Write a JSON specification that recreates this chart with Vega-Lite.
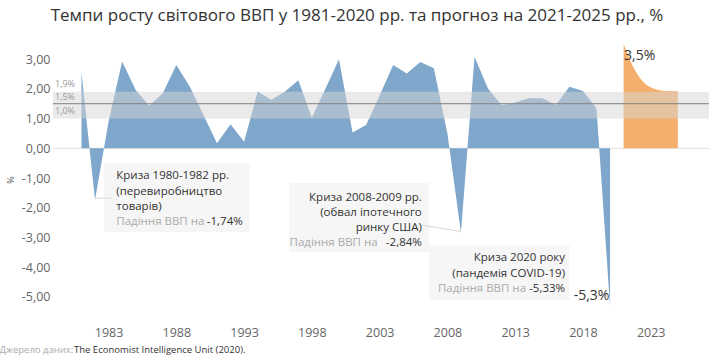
{
  "$schema": "https://vega.github.io/schema/vega-lite/v6.json",
  "width": 656,
  "height": 277,
  "autosize": {"type": "none"},
  "padding": {"left": 53, "top": 41, "right": 0, "bottom": 37},
  "background": "white",
  "title": {
    "text": "Темпи росту світового ВВП у 1981-2020 рр. та прогноз на 2021-2025 рр., %",
    "font": "Open Sans",
    "fontSize": 17,
    "fontWeight": "normal",
    "color": "#333333",
    "anchor": "middle",
    "dx": -24,
    "offset": 16
  },
  "config": {
    "locale": {"number": {"decimal": ",", "thousands": " ", "grouping": [3], "currency": ["", ""], "minus": "-"}},
    "view": {"stroke": null},
    "font": "Open Sans",
    "axis": {"labelOverlap": false, "labelBound": false, "labelFlush": false}
  },
  "datasets": {
    "hist": [
      {"year": 1981, "value": 2.55}, {"year": 1982, "value": -1.74}, {"year": 1983, "value": 0.9},
      {"year": 1984, "value": 2.92}, {"year": 1985, "value": 1.96}, {"year": 1986, "value": 1.43},
      {"year": 1987, "value": 1.85}, {"year": 1988, "value": 2.8}, {"year": 1989, "value": 2.07},
      {"year": 1990, "value": 1.12}, {"year": 1991, "value": 0.17}, {"year": 1992, "value": 0.81},
      {"year": 1993, "value": 0.22}, {"year": 1994, "value": 1.91}, {"year": 1995, "value": 1.63},
      {"year": 1996, "value": 1.9}, {"year": 1997, "value": 2.29}, {"year": 1998, "value": 1.04},
      {"year": 1999, "value": 2.0}, {"year": 2000, "value": 3.0}, {"year": 2001, "value": 0.53},
      {"year": 2002, "value": 0.78}, {"year": 2003, "value": 1.78}, {"year": 2004, "value": 2.8},
      {"year": 2005, "value": 2.52}, {"year": 2006, "value": 2.9}, {"year": 2007, "value": 2.69},
      {"year": 2008, "value": 0.5}, {"year": 2009, "value": -2.84}, {"year": 2010, "value": 3.08},
      {"year": 2011, "value": 2.0}, {"year": 2012, "value": 1.45}, {"year": 2013, "value": 1.54},
      {"year": 2014, "value": 1.68}, {"year": 2015, "value": 1.68}, {"year": 2016, "value": 1.46},
      {"year": 2017, "value": 2.07}, {"year": 2018, "value": 1.93}, {"year": 2019, "value": 1.35},
      {"year": 2020, "value": -5.33}
    ],
    "forecast": [
      {"year": 2021, "value": 3.5}, {"year": 2022, "value": 2.5}, {"year": 2023, "value": 2.05},
      {"year": 2024, "value": 1.93}, {"year": 2025, "value": 1.92}
    ],
    "boxes": [
      {"year": 1982.66, "year2": 1993.4, "value": -0.5, "value2": -2.82},
      {"year": 1996.3, "year2": 2006.65, "value": -1.17, "value2": -3.49},
      {"year": 2006.65, "year2": 2017.0, "value": -3.26, "value2": -5.1}
    ],
    "leaders": [
      {"year": 1982.0, "year2": 1983.2, "value": -1.68, "value2": -1.68},
      {"year": 2006.15, "year2": 2009.0, "value": -2.59, "value2": -2.8}
    ],
    "band": [{"value": 1.0, "value2": 1.9}],
    "mean": [{"value": 1.5}],
    "zero": [{"value": 0}],
    "bandlabels": [
      {"year": 1978.9, "value": 2.16, "label": "1,9%"},
      {"year": 1978.9, "value": 1.73, "label": "1,5%"},
      {"year": 1978.9, "value": 1.26, "label": "1,0%"}
    ],
    "annleft": [
      {"year": 1983.57, "value": -0.92, "label": "Криза 1980-1982 рр.", "tone": "dark"},
      {"year": 1983.57, "value": -1.47, "label": "(перевиробництво", "tone": "dark"},
      {"year": 1983.57, "value": -1.99, "label": "товарів)", "tone": "dark"},
      {"year": 1983.57, "value": -2.48, "label": "Падіння ВВП на", "tone": "grey"},
      {"year": 1990.25, "value": -2.48, "label": "-1,74%", "tone": "dark"}
    ],
    "annright": [
      {"year": 2006.11, "value": -1.67, "label": "Криза 2008-2009 рр.", "tone": "dark"},
      {"year": 2006.11, "value": -2.18, "label": "(обвал іпотечного", "tone": "dark"},
      {"year": 2006.11, "value": -2.68, "label": "ринку США)", "tone": "dark"},
      {"year": 2002.85, "value": -3.19, "label": "Падіння ВВП на", "tone": "grey"},
      {"year": 2006.11, "value": -3.19, "label": "-2,84%", "tone": "dark"},
      {"year": 2016.68, "value": -3.69, "label": "Криза 2020 року", "tone": "dark"},
      {"year": 2016.68, "value": -4.23, "label": "(пандемія COVID-19)", "tone": "dark"},
      {"year": 2013.8, "value": -4.75, "label": "Падіння ВВП на", "tone": "grey"},
      {"year": 2016.68, "value": -4.75, "label": "-5,33%", "tone": "dark"}
    ],
    "biglabels": [
      {"year": 2019.95, "value": -4.97, "label": "-5,3%", "side": "right"},
      {"year": 2021.03, "value": 3.11, "label": "3,5%", "side": "left"}
    ],
    "source": [
      {"year": 1974.95, "value": -6.79, "label": "Джерело даних:", "tone": "grey"},
      {"year": 1980.45, "value": -6.79, "label": "The Economist Intelligence Unit (2020).", "tone": "dark"}
    ]
  },
  "layer": [
    {
      "data": {"name": "boxes"},
      "mark": {"type": "rect", "color": "#f6f6f6"},
      "encoding": {
        "x": {"field": "year", "type": "quantitative"},
        "x2": {"field": "year2"},
        "y": {"field": "value", "type": "quantitative"},
        "y2": {"field": "value2"}
      }
    },
    {
      "data": {"name": "zero"},
      "mark": {"type": "rule", "color": "#dddddd", "strokeWidth": 1},
      "encoding": {
        "y": {"field": "value", "type": "quantitative"}
      }
    },
    {
      "data": {"name": "hist"},
      "mark": {"type": "area", "color": "#7fa7cb", "interpolate": "linear"},
      "encoding": {
        "x": {
          "field": "year", "type": "quantitative",
          "scale": {"domain": [1978.9, 2027.3], "nice": false, "zero": false},
          "axis": {
            "values": [1983, 1988, 1993, 1998, 2003, 2008, 2013, 2018, 2023],
            "format": "d",
            "title": null,
            "labelFontSize": 12.5,
            "labelColor": "#666666",
            "labelPadding": 8,
            "labelOverlap": false,
            "domain": false,
            "ticks": false,
            "grid": false
          }
        },
        "y": {
          "field": "value", "type": "quantitative",
          "scale": {"domain": [-5.71, 3.61], "nice": false, "zero": false},
          "axis": {
            "values": [-5, -4, -3, -2, -1, 0, 1, 2, 3],
            "tickCount": 9,
            "format": ".2f",
            "title": "%",
            "titleFontSize": 9,
            "titleFontWeight": "normal",
            "titleColor": "#555555",
            "titlePadding": 6,
            "labelFontSize": 12.5,
            "labelColor": "#666666",
            "labelPadding": 3,
            "labelOverlap": false,
            "domain": false,
            "ticks": false,
            "grid": false
          }
        }
      }
    },
    {
      "data": {"name": "forecast"},
      "mark": {"type": "area", "color": "#f5ae6b", "interpolate": "monotone"},
      "encoding": {
        "x": {"field": "year", "type": "quantitative"},
        "y": {"field": "value", "type": "quantitative"}
      }
    },
    {
      "data": {"name": "band"},
      "mark": {"type": "rect", "color": "#d6d6d6", "opacity": 0.5},
      "encoding": {
        "y": {"field": "value", "type": "quantitative"},
        "y2": {"field": "value2"}
      }
    },
    {
      "data": {"name": "mean"},
      "mark": {"type": "rule", "color": "#808080", "strokeWidth": 1},
      "encoding": {
        "y": {"field": "value", "type": "quantitative"}
      }
    },
    {
      "data": {"name": "leaders"},
      "mark": {"type": "rule", "color": "#d8d8d8", "strokeWidth": 1},
      "encoding": {
        "x": {"field": "year", "type": "quantitative"},
        "x2": {"field": "year2"},
        "y": {"field": "value", "type": "quantitative"},
        "y2": {"field": "value2"}
      }
    },
    {
      "data": {"name": "bandlabels"},
      "mark": {"type": "text", "align": "left", "baseline": "middle", "fontSize": 9, "color": "#9a9a9a", "dx": 2},
      "encoding": {
        "x": {"field": "year", "type": "quantitative"},
        "y": {"field": "value", "type": "quantitative"},
        "text": {"field": "label"}
      }
    },
    {
      "data": {"name": "annleft"},
      "mark": {"type": "text", "align": "left", "baseline": "middle", "fontSize": 11.5},
      "encoding": {
        "x": {"field": "year", "type": "quantitative"},
        "y": {"field": "value", "type": "quantitative"},
        "text": {"field": "label"},
        "color": {"field": "tone", "type": "nominal", "scale": {"domain": ["dark", "grey"], "range": ["#333333", "#ababab"]}, "legend": null}
      }
    },
    {
      "data": {"name": "annright"},
      "mark": {"type": "text", "align": "right", "baseline": "middle", "fontSize": 11.5},
      "encoding": {
        "x": {"field": "year", "type": "quantitative"},
        "y": {"field": "value", "type": "quantitative"},
        "text": {"field": "label"},
        "color": {"field": "tone", "type": "nominal", "legend": null}
      }
    },
    {
      "data": {"name": "biglabels"},
      "transform": [{"filter": "datum.side === 'right'"}],
      "mark": {"type": "text", "align": "right", "baseline": "middle", "fontSize": 14, "color": "#333333"},
      "encoding": {
        "x": {"field": "year", "type": "quantitative"},
        "y": {"field": "value", "type": "quantitative"},
        "text": {"field": "label"}
      }
    },
    {
      "data": {"name": "biglabels"},
      "transform": [{"filter": "datum.side === 'left'"}],
      "mark": {"type": "text", "align": "left", "baseline": "middle", "fontSize": 14, "color": "#333333"},
      "encoding": {
        "x": {"field": "year", "type": "quantitative"},
        "y": {"field": "value", "type": "quantitative"},
        "text": {"field": "label"}
      }
    },
    {
      "data": {"name": "source"},
      "mark": {"type": "text", "align": "left", "baseline": "middle", "fontSize": 9.5},
      "encoding": {
        "x": {"field": "year", "type": "quantitative"},
        "y": {"field": "value", "type": "quantitative"},
        "text": {"field": "label"},
        "color": {"field": "tone", "type": "nominal", "legend": null}
      }
    }
  ]
}
